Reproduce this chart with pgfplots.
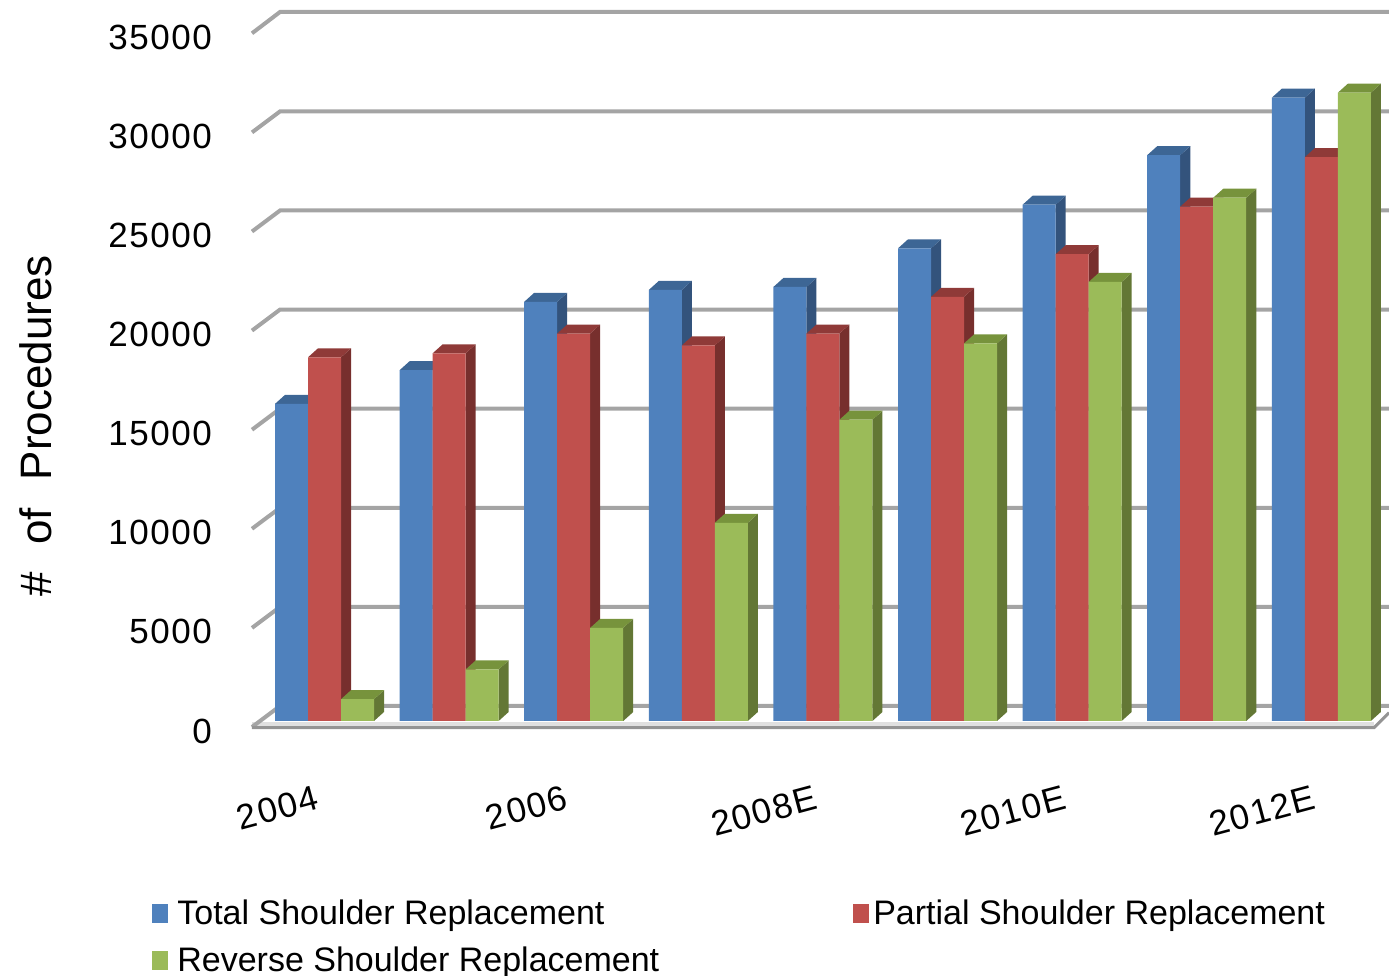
\documentclass[border=0pt]{standalone}
\usepackage{fontspec}
\usepackage{pgfplots}
\pgfplotsset{compat=1.18}
\setmainfont{Liberation Sans}
\newfontfamily\lsfont[LetterSpace=4.5]{Liberation Sans}
\definecolor{bfront}{HTML}{4F81BD}\definecolor{bside}{HTML}{33537C}\definecolor{btop}{HTML}{3D6695}
\definecolor{rfront}{HTML}{C0504D}\definecolor{rside}{HTML}{772F2D}\definecolor{rtop}{HTML}{8F3A38}
\definecolor{gfront}{HTML}{9BBB59}\definecolor{gside}{HTML}{637735}\definecolor{gtop}{HTML}{77933C}
\definecolor{gridc}{HTML}{A4A4A4}
% side and top faces of one bar: #1 group, #2 series (0,1,2), #3 value, #4 side colour, #5 top colour
\newcommand{\faces}[5]{%
  \pgfmathsetmacro{\xL}{#1+(#2-1.5)*0.26485}%
  \pgfmathsetmacro{\xR}{\xL+0.26485}%
  \pgfmathsetmacro{\xLd}{\xL+0.0803}%
  \pgfmathsetmacro{\xRd}{\xR+0.0803}%
  \edef\vd{\the\numexpr#3+454\relax}%
  \edef\tmp{\noexpand\addplot[fill=#4,draw=none,forget plot] coordinates {(\xR,0) (\xRd,454) (\xRd,\vd) (\xR,#3)} --cycle;
  \noexpand\addplot[fill=#5,draw=none,forget plot] coordinates {(\xL,#3) (\xLd,\vd) (\xRd,\vd) (\xR,#3)} --cycle;}%
  \tmp}
\begin{document}
\begin{tikzpicture}
\path[use as bounding box] (0,0) rectangle (694.5pt,488pt);
\begin{axis}[
  at={(126pt,124.5pt)}, anchor=south west,
  scale only axis, width=568.5pt, height=361pt,
  xmin=-0.582, xmax=8.543, ymin=-303, ymax=36125,
  clip=false,
  axis line style={draw=none},
  tick style={draw=none},
  xtick={0,2,4,6,8},
  xticklabels={2004,2006,2008E,2010E,2012E},
  ytick={0,5000,10000,15000,20000,25000,30000,35000},
  scaled y ticks=false,
  /pgf/number format/1000 sep={},
  /pgf/number format/assume math mode=true,
  yticklabel style={font=\fontsize{17.5}{20}\lsfont, anchor=east, xshift=-16.5pt, yshift=-5pt},
  xticklabel style={font=\fontsize{17.5}{20}\lsfont, rotate=15, anchor=east, xshift=-9pt, yshift=-33pt},
  ylabel={\#\hspace{0.35em} of\hspace{0.35em} Procedures},
  every axis y label/.style={at={(axis description cs:-0.19,0.417)},rotate=90,anchor=center,font=\fontsize{22}{26}\selectfont},
  legend columns=2,
  legend cell align=left,
  legend style={at={(axis description cs:-0.088,-0.2328)},anchor=north west,draw=none,fill=none,inner sep=0pt,
    font=\fontsize{17}{20}\selectfont,row sep=6pt,
    /tikz/column 1/.style={column sep=2.5pt},
    /tikz/column 2/.style={column sep=95pt}},
]
% floor band and gridlines
\addplot[line width=2.5pt,color=black!12,forget plot] coordinates {(-0.582,-177) (8.423,-177)};
\addplot[line width=2pt,color=gridc,forget plot] coordinates {(-0.582,-303) (-0.357,757) (8.543,757)};
\addplot[line width=2pt,color=gridc,forget plot] coordinates {(-0.582,4697) (-0.357,5757) (8.543,5757)};
\addplot[line width=2pt,color=gridc,forget plot] coordinates {(-0.582,9697) (-0.357,10757) (8.543,10757)};
\addplot[line width=2pt,color=gridc,forget plot] coordinates {(-0.582,14697) (-0.357,15757) (8.543,15757)};
\addplot[line width=2pt,color=gridc,forget plot] coordinates {(-0.582,19697) (-0.357,20757) (8.543,20757)};
\addplot[line width=2pt,color=gridc,forget plot] coordinates {(-0.582,24697) (-0.357,25757) (8.543,25757)};
\addplot[line width=2pt,color=gridc,forget plot] coordinates {(-0.582,29697) (-0.357,30757) (8.543,30757)};
\addplot[line width=2pt,color=gridc,forget plot] coordinates {(-0.582,34697) (-0.357,35773) (8.543,35773)};
\addplot[line width=1.5pt,color=gridc!90!black,forget plot] coordinates {(-0.582,-340) (8.423,-340) (8.543,420)};
% total
\pgfplotsforeachungrouped \i/\v in {0/16000,1/17700,2/21150,3/21750,4/21900,5/23850,6/26050,7/28550,8/31450}{\faces{\i}{0}{\v}{bside}{btop}}
\addplot[ybar,bar width=16.5pt,bar shift=-16.5pt,fill=bfront,draw=none,
  legend image code/.code={\fill[bfront] (0pt,-4.75pt) rectangle (8pt,4.75pt);}]
  coordinates {(0,16000)(1,17700)(2,21150)(3,21750)(4,21900)(5,23850)(6,26050)(7,28550)(8,31450)};
\addlegendentry{Total Shoulder Replacement}
% partial
\pgfplotsforeachungrouped \i/\v in {0/18350,1/18550,2/19550,3/18950,4/19550,5/21400,6/23550,7/25950,8/28450}{\faces{\i}{1}{\v}{rside}{rtop}}
\addplot[ybar,bar width=16.5pt,bar shift=0pt,fill=rfront,draw=none,
  legend image code/.code={\fill[rfront] (0pt,-4.75pt) rectangle (8pt,4.75pt);}]
  coordinates {(0,18350)(1,18550)(2,19550)(3,18950)(4,19550)(5,21400)(6,23550)(7,25950)(8,28450)};
\addlegendentry{Partial Shoulder Replacement}
% reverse
\pgfplotsforeachungrouped \i/\v in {0/1100,1/2600,2/4700,3/10000,4/15200,5/19050,6/22150,7/26400,8/31700}{\faces{\i}{2}{\v}{gside}{gtop}}
\addplot[ybar,bar width=16.5pt,bar shift=16.5pt,fill=gfront,draw=none,
  legend image code/.code={\fill[gfront] (0pt,-4.75pt) rectangle (8pt,4.75pt);}]
  coordinates {(0,1100)(1,2600)(2,4700)(3,10000)(4,15200)(5,19050)(6,22150)(7,26400)(8,31700)};
\addlegendentry{Reverse Shoulder Replacement}
\end{axis}
\end{tikzpicture}
\end{document}
